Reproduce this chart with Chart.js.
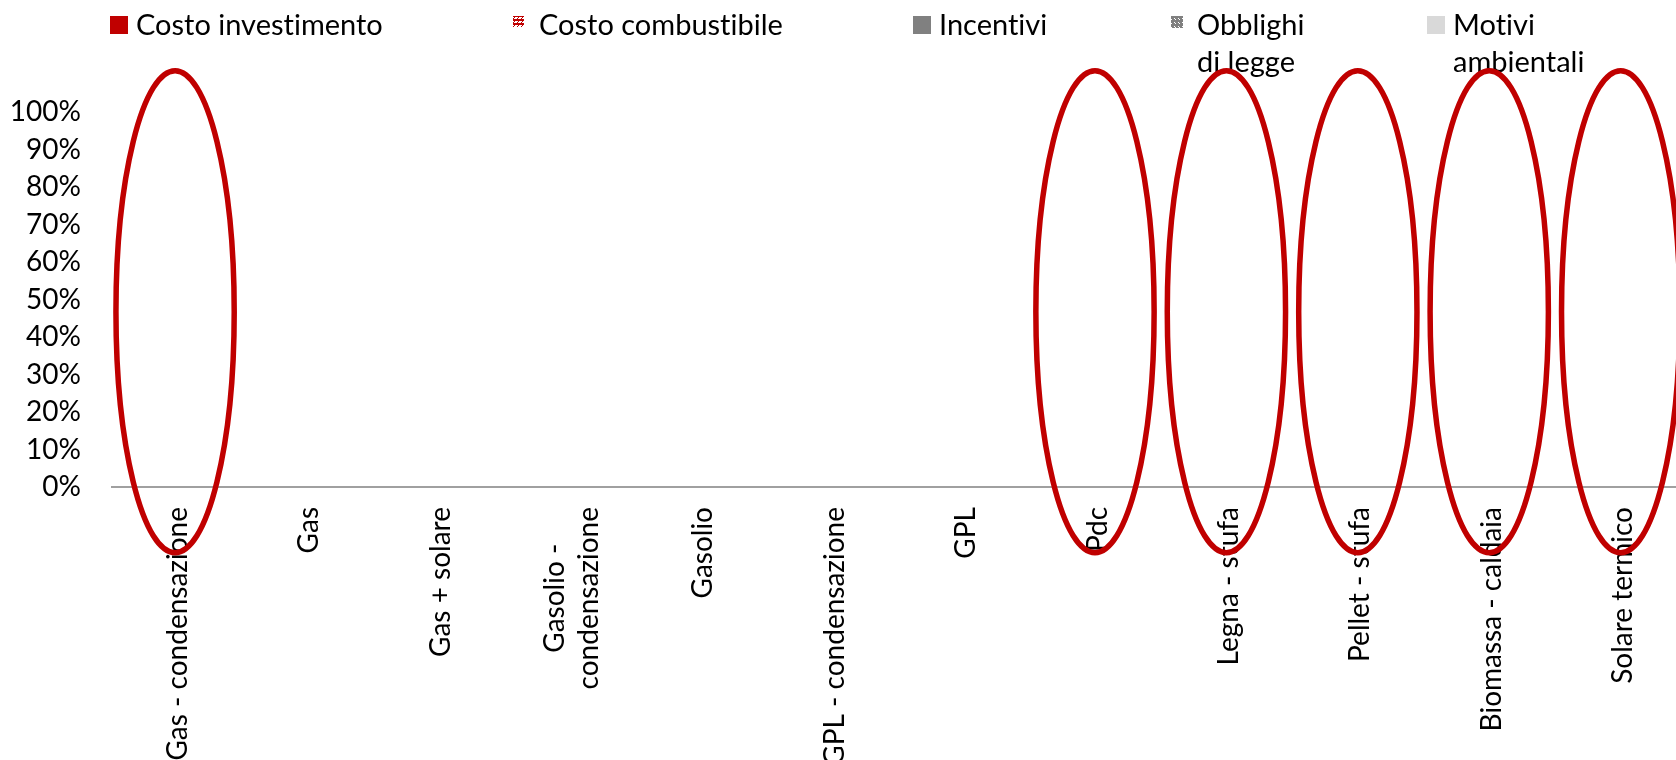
<!DOCTYPE html>
<html lang="it">
<head>
<meta charset="UTF-8">
<title>Motivi della scelta dell'impianto</title>
<script src="https://cdn.jsdelivr.net/npm/chart.js"></script>
<style>
    html, body { margin: 0; padding: 0; background: #fff; overflow: hidden; }
    #wrap { width: 1689px; height: 760px; }
</style>
</head>
<body>
<div id="wrap"><canvas id="myChart" width="1689" height="760"></canvas></div>
<script>
var categories = [
    'Gas - condensazione', 'Gas', 'Gas + solare', ['Gasolio -', 'condensazione'], 'Gasolio',
    'GPL - condensazione', 'GPL', 'Pdc', 'Legna - stufa', 'Pellet - stufa', 'Biomassa - caldaia', 'Solare termico'
];

var seriesNames = ['Costo investimento', 'Costo combustibile', 'Incentivi', 'Obblighi di legge', 'Motivi ambientali'];

// no bar is visible in the picture, every share reads as 0
var costoInvestimento = [0, 0, 0, 0, 0, 0, 0, 0, 0, 0, 0, 0];
var costoCombustibile = [0, 0, 0, 0, 0, 0, 0, 0, 0, 0, 0, 0];
var incentivi         = [0, 0, 0, 0, 0, 0, 0, 0, 0, 0, 0, 0];
var obblighiDiLegge   = [0, 0, 0, 0, 0, 0, 0, 0, 0, 0, 0, 0];
var motiviAmbientali  = [0, 0, 0, 0, 0, 0, 0, 0, 0, 0, 0, 0];

var yTickValues = [0, 10, 20, 30, 40, 50, 60, 70, 80, 90, 100];

// categories circled in red
var highlighted = ['Gas - condensazione', 'Pdc', 'Legna - stufa', 'Pellet - stufa', 'Biomassa - caldaia', 'Solare termico'];

var FONT = 'Lato, "Liberation Sans", sans-serif';

function makePattern(bg, fg, pixels) {
    var c = document.createElement('canvas');
    c.width = 4;
    c.height = 4;
    var g = c.getContext('2d');
    g.fillStyle = bg;
    g.fillRect(0, 0, 4, 4);
    g.fillStyle = fg;
    pixels.forEach(function (p) { g.fillRect(p[0], p[1], 1, 1); });
    return g.createPattern(c, 'repeat');
}

var redHatch = makePattern('#ffffff', '#c00000', [[0, 0], [1, 0], [2, 0], [3, 0], [2, 1], [1, 2], [0, 3], [1, 3], [2, 3], [3, 3]]);
var greyChecker = makePattern('#808080', '#ffffff', [[2, 2], [3, 3]]);

// Lato joins "ti" into a ligature, Calibri-like text does not
var noLigatures = {
    id: 'noLigatures',
    beforeUpdate: function (chart) { chart.ctx.textRendering = 'optimizeSpeed'; },
    beforeDraw: function (chart) { chart.ctx.textRendering = 'optimizeSpeed'; }
};

// two-line category labels: centre the lines on the tick, like the original
var centerMultiLine = {
    id: 'centerMultiLine',
    beforeDraw: function (chart) {
        var ctx = chart.ctx;
        var items = chart.scales.x.getLabelItems(chart.chartArea);
        items.forEach(function (item) {
            if (!Array.isArray(item.label) || item._centred || !item.font || !item.options.translation) return;
            var o = item.options;
            ctx.save();
            ctx.font = item.font.string;
            var w = Math.max.apply(null, item.label.map(function (l) { return ctx.measureText(l).width; }));
            ctx.restore();
            var lh = item.font.lineHeight;
            o.translation = [o.translation[0] - lh * (item.label.length - 1) / 2, o.translation[1] + w / 2];
            o.textAlign = 'center';
            item._centred = true;
        });
    }
};

var legendPlugin = {
    id: 'topLegend',
    afterDraw: function (chart, args, opts) {
        var ctx = chart.ctx;
        ctx.save();
        ctx.font = opts.fontSize + 'px ' + FONT;
        ctx.textBaseline = 'alphabetic';
        chart.data.datasets.forEach(function (ds, i) {
            var x = opts.x[i];
            var s = opts.box[i];
            ctx.fillStyle = ds.backgroundColor;
            ctx.fillRect(x, opts.boxTop, s, s);

            // simple word wrap
            var words = ds.label.split(' ');
            var lines = [];
            var line = '';
            words.forEach(function (w) {
                var test = line ? line + ' ' + w : w;
                if (line && ctx.measureText(test).width > opts.maxWidth[i]) {
                    lines.push(line);
                    line = w;
                } else {
                    line = test;
                }
            });
            lines.push(line);

            ctx.fillStyle = '#000';
            lines.forEach(function (l, j) {
                ctx.fillText(l, x + opts.textGap, opts.baseline + j * opts.lineHeight);
            });
        });
        ctx.restore();
    }
};

var ellipsePlugin = {
    id: 'circles',
    afterDraw: function (chart, args, opts) {
        var xs = chart.scales.x;
        var ys = chart.scales.y;
        var ctx = chart.ctx;
        ctx.save();
        ctx.strokeStyle = opts.color;
        ctx.lineWidth = opts.lineWidth;
        highlighted.forEach(function (name) {
            var i = categories.indexOf(name);
            var cx = xs.getPixelForValue(i + opts.shift);
            var rx = xs.getPixelForValue(i + opts.halfWidth) - xs.getPixelForValue(i);
            var top = ys.getPixelForValue(opts.top);
            var bottom = ys.getPixelForValue(opts.bottom);
            ctx.beginPath();
            ctx.ellipse(cx, (top + bottom) / 2, rx, (bottom - top) / 2, 0, 0, Math.PI * 2);
            ctx.stroke();
        });
        ctx.restore();
    }
};

var chartData = {
    labels: categories,
    datasets: [
        { label: seriesNames[0], data: costoInvestimento, backgroundColor: '#c00000' },
        { label: seriesNames[1], data: costoCombustibile, backgroundColor: redHatch },
        { label: seriesNames[2], data: incentivi, backgroundColor: '#808080' },
        { label: seriesNames[3], data: obblighiDiLegge, backgroundColor: greyChecker },
        { label: seriesNames[4], data: motiviAmbientali, backgroundColor: '#d9d9d9' }
    ]
};

var tickFont = { family: FONT, size: 28 };

var chartOptions = {
    responsive: false,
    animation: false,
    layout: { padding: { top: 112, left: 0, right: 0, bottom: 0 } },
    plugins: {
        legend: { display: false },
        tooltip: { enabled: false },
        topLegend: {
            x: [110, 513, 913, 1171, 1427],
            box: [18, 11, 18, 12, 18],
            boxTop: 16,
            textGap: 26,
            maxWidth: [400, 400, 240, 130, 150],
            baseline: 35,
            lineHeight: 37,
            fontSize: 29
        },
        circles: { color: '#c00000', lineWidth: 5.5, halfWidth: 0.45, shift: -0.02, top: 111, bottom: -17.5 }
    },
    scales: {
        x: {
            stacked: true,
            grid: { display: false, drawTicks: false },
            border: { display: true, color: '#a0a0a0', width: 2 },
            ticks: {
                autoSkip: false,
                minRotation: 90,
                maxRotation: 90,
                padding: 20,
                color: '#000',
                font: tickFont
            },
            afterFit: function (s) { s.height = 273; }
        },
        y: {
            stacked: true,
            min: 0,
            max: 100,
            grid: { display: false, drawTicks: false },
            border: { display: false },
            afterBuildTicks: function (s) {
                s.ticks = yTickValues.map(function (v) { return { value: v }; });
            },
            ticks: {
                autoSkip: false,
                padding: 31,
                color: '#000',
                font: tickFont,
                callback: function (v) { return v + '%'; }
            },
            afterFit: function (s) { s.width = 112; }
        }
    }
};

var ctx = document.getElementById('myChart').getContext('2d');
var myChart = new Chart(ctx, {
    type: 'bar',
    data: chartData,
    options: chartOptions,
    plugins: [noLigatures, centerMultiLine, legendPlugin, ellipsePlugin]
});
</script>
</body>
</html>
